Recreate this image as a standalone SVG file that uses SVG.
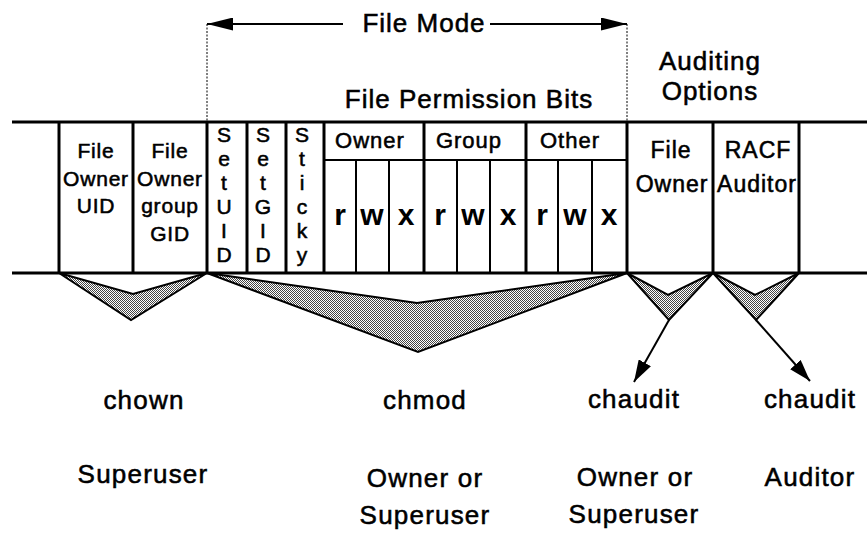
<svg xmlns="http://www.w3.org/2000/svg" width="867" height="533" viewBox="0 0 867 533">
<style>
text{font-family:"Liberation Sans",Arial,sans-serif;fill:#000;stroke:#000;stroke-width:0.55;text-anchor:middle}
.cell{font-size:21px;letter-spacing:0.8px}
.rcell{font-size:23px;letter-spacing:1px}
.ltr{font-size:21px}
.hdr{font-size:22px;letter-spacing:1px}
.bit{font-size:30px;font-weight:bold;stroke-width:0}
.big{font-size:26px;letter-spacing:1px}
.lbl{font-size:26px;letter-spacing:1.2px}
.main{stroke:#000;stroke-width:3;fill:none}
.thin{stroke:#000;stroke-width:2;fill:none}
.dash{stroke:#000;stroke-width:1;stroke-dasharray:2 1.5;fill:none}
.tri{fill:url(#hatch);stroke:#000;stroke-width:2;stroke-linejoin:miter}
.conn{stroke:#000;stroke-width:2;fill:none}
</style>
<defs>
<pattern id="hatch" width="2" height="2" patternUnits="userSpaceOnUse">
<rect width="2" height="2" fill="#fff"/>
<rect x="0" y="0" width="1" height="1" fill="#444"/>
<rect x="1" y="1" width="1" height="1" fill="#444"/>
</pattern>
<marker id="ah" viewBox="0 0 22 14" refX="22" refY="7" markerWidth="22" markerHeight="14" markerUnits="userSpaceOnUse" orient="auto">
<path d="M0,0 L22,7 L0,14 z" fill="#000"/>
</marker>
<marker id="ah2" viewBox="0 0 26 13" refX="26" refY="6.5" markerWidth="26" markerHeight="13" markerUnits="userSpaceOnUse" orient="auto">
<path d="M0,0 L26,6.5 L0,13 z" fill="#000"/>
</marker>
</defs>
<rect width="867" height="533" fill="#fff"/>

<g id="record">
<line class="main" x1="12" y1="122" x2="867" y2="122"/>
<line class="main" x1="12" y1="273" x2="867" y2="273"/>
<line class="main" x1="59" y1="122" x2="59" y2="273"/>
<line class="main" x1="133" y1="122" x2="133" y2="273"/>
<line class="main" x1="207" y1="122" x2="207" y2="273"/>
<line class="main" x1="627" y1="122" x2="627" y2="273"/>
<line class="main" x1="713" y1="122" x2="713" y2="273"/>
<line class="main" x1="799" y1="122" x2="799" y2="273"/>
</g>

<g id="file-mode">
<line class="dash" x1="207" y1="24" x2="207" y2="121"/>
<line class="dash" x1="627" y1="24" x2="627" y2="121"/>
<text class="big" x="424" y="32">File Mode</text>
</g>

<g id="owner-uid">
<text class="cell" x="96" y="158">File</text>
<text class="cell" x="96" y="186">Owner</text>
<text class="cell" x="96" y="213">UID</text>
</g>

<g id="owner-gid">
<text class="cell" x="170" y="158">File</text>
<text class="cell" x="170" y="186">Owner</text>
<text class="cell" x="170" y="213">group</text>
<text class="cell" x="170" y="241">GID</text>
</g>

<g id="setuid">
<text class="ltr" x="224" y="142">S</text>
<text class="ltr" x="224" y="166">e</text>
<text class="ltr" x="224" y="190">t</text>
<text class="ltr" x="224" y="214">U</text>
<text class="ltr" x="224" y="238">I</text>
<text class="ltr" x="224" y="262">D</text>
</g>

<g id="setgid">
<line class="main" x1="247" y1="122" x2="247" y2="273"/>
<text class="ltr" x="263" y="142">S</text>
<text class="ltr" x="263" y="166">e</text>
<text class="ltr" x="263" y="190">t</text>
<text class="ltr" x="263" y="214">G</text>
<text class="ltr" x="263" y="238">I</text>
<text class="ltr" x="263" y="262">D</text>
</g>

<g id="sticky">
<line class="main" x1="286" y1="122" x2="286" y2="273"/>
<text class="ltr" x="302" y="142">S</text>
<text class="ltr" x="302" y="166">t</text>
<text class="ltr" x="302" y="190">i</text>
<text class="ltr" x="302" y="214">c</text>
<text class="ltr" x="302" y="238">k</text>
<text class="ltr" x="302" y="262">y</text>
</g>

<g id="permission-bits">
<text class="big" x="469" y="108">File Permission Bits</text>
<line class="main" x1="324" y1="122" x2="324" y2="273"/>
<line class="main" x1="424" y1="122" x2="424" y2="273"/>
<line class="main" x1="526" y1="122" x2="526" y2="273"/>
<line class="thin" x1="324" y1="160" x2="627" y2="160"/>
<line class="thin" x1="356" y1="160" x2="356" y2="273"/>
<line class="thin" x1="389" y1="160" x2="389" y2="273"/>
<line class="thin" x1="457" y1="160" x2="457" y2="273"/>
<line class="thin" x1="490" y1="160" x2="490" y2="273"/>
<line class="thin" x1="558" y1="160" x2="558" y2="273"/>
<line class="thin" x1="592" y1="160" x2="592" y2="273"/>
<text class="hdr" x="370" y="148">Owner</text>
<text class="hdr" x="469" y="148">Group</text>
<text class="hdr" x="570" y="148">Other</text>
<text class="bit" x="340" y="225">r</text>
<text class="bit" x="372" y="225">w</text>
<text class="bit" x="406" y="225">x</text>
<text class="bit" x="440" y="225">r</text>
<text class="bit" x="473" y="225">w</text>
<text class="bit" x="508" y="225">x</text>
<text class="bit" x="542" y="225">r</text>
<text class="bit" x="575" y="225">w</text>
<text class="bit" x="609" y="225">x</text>
</g>

<g id="auditing-options">
<text class="big" x="710" y="70">Auditing</text>
<text class="big" x="710" y="100">Options</text>
</g>

<g id="audit-owner">
<text class="rcell" x="671" y="158">File</text>
<text class="rcell" x="672" y="192">Owner</text>
</g>

<g id="audit-auditor">
<text class="rcell" x="758" y="158">RACF</text>
<text class="rcell" x="757" y="192">Auditor</text>
</g>

<g id="chown">
<polygon class="tri" points="59,273 131,320 207,273 133,294"/>
<text class="lbl" x="144" y="409">chown</text>
<text class="lbl" x="143" y="483">Superuser</text>
</g>

<g id="chmod">
<polygon class="tri" points="207,273 418,352 627,273 417,303"/>
<text class="lbl" x="425" y="409">chmod</text>
<text class="lbl" x="425" y="487">Owner or</text>
<text class="lbl" x="425" y="524">Superuser</text>
</g>

<g id="chaudit-owner">
<polygon class="tri" points="627,273 669,320 713,273 668,295"/>
<text class="lbl" x="634" y="408">chaudit</text>
<text class="lbl" x="635" y="486">Owner or</text>
<text class="lbl" x="634" y="523">Superuser</text>
</g>

<g id="chaudit-auditor">
<polygon class="tri" points="713,273 756,320 799,273 755,295"/>
<text class="lbl" x="810" y="408">chaudit</text>
<text class="lbl" x="810" y="486">Auditor</text>
</g>

<g id="connectors">
<line class="conn" x1="343" y1="24" x2="207" y2="24" marker-end="url(#ah2)"/>
<line class="conn" x1="490" y1="24" x2="627" y2="24" marker-end="url(#ah2)"/>
<line class="conn" x1="669" y1="320" x2="634" y2="382" marker-end="url(#ah)"/>
<line class="conn" x1="756" y1="320" x2="810" y2="381" marker-end="url(#ah)"/>
</g>
</svg>
